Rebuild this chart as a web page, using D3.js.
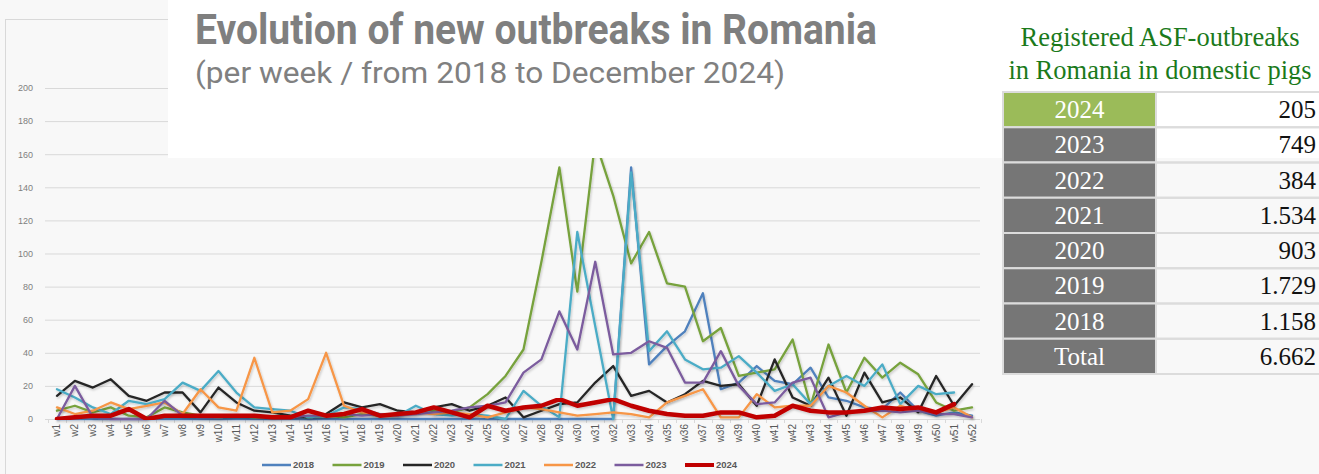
<!DOCTYPE html>
<html>
<head>
<meta charset="utf-8">
<script src="https://cdn.jsdelivr.net/npm/d3@7"></script>
<style>
  html, body { margin: 0; padding: 0; background: #f8f8f8; }
  svg { display: block; }
</style>
</head>
<body>
<svg id="chart" width="1319" height="474"></svg>
<script>
/* ── Data ───────────────────────────────────────────────── */
const weeks = d3.range(1, 53).map(i => 'w' + i);
const yTicks = [0, 20, 40, 60, 80, 100, 120, 140, 160, 180, 200];

const y2018 = [0,0,0,0,0,0,0,0,0,0,0,0,0,0,0,0,0,0,0,0,0,0,0,0,0,0,0,0,0,0,0,0,
  152,33,44,53,76,18,22,32,23,21,31,13,11,7,6,16,5,2,4,2];
const y2019 = [5,8,4,7,2,1,7,4,2,1,2,1,1,2,1,2,1,3,2,3,4,5,4,7,15,26,42,95,152,77,168,135,
  94,113,82,80,47,55,26,28,30,48,8,45,16,37,25,34,27,10,5,7];
const y2020 = [14,23,19,24,14,11,16,16,4,19,10,5,4,2,1,3,10,7,9,5,4,7,9,5,8,13,1,5,9,10,22,32,
  14,17,10,15,23,20,21,8,36,13,8,25,2,28,10,13,4,26,8,21];
const y2021 = [18,13,7,3,11,9,12,22,17,29,16,7,6,5,1,2,7,6,3,2,8,3,2,3,2,0,17,8,1,113,56,0,
  149,41,53,36,30,31,38,28,17,21,9,20,26,20,33,9,20,15,16,null];
const y2022 = [7,3,5,10,6,8,10,3,18,7,5,37,4,5,12,40,8,4,3,3,4,3,4,3,1,4,7,6,4,2,3,4,
  3,1,10,14,18,1,1,15,7,8,8,20,16,8,1,8,5,4,7,1];
const y2023 = [0,20,1,0,0,0,11,2,1,1,2,2,1,1,2,2,3,2,3,2,3,4,5,7,8,10,28,36,65,42,95,39,
  40,47,43,22,22,41,20,9,10,22,25,1,4,5,5,4,5,3,3,1];
const y2024 = [0,1,2,2,6,0,2,2,2,2,2,2,1,1,5,2,3,6,2,3,4,7,4,1,8,5,7,8,12,8,10,12,
  8,5,3,2,2,4,4,1,2,8,5,4,4,5,7,6,7,4,9,null];

const seriesNames  = ['2018', '2019', '2020', '2021', '2022', '2023', '2024'];
const seriesValues = [y2018, y2019, y2020, y2021, y2022, y2023, y2024];
const seriesColors = ['#4f81bd', '#77a23c', '#262626', '#4bacc6', '#f79646', '#7b5c9e', '#c00000'];

const tableYears  = ['2024', '2023', '2022', '2021', '2020', '2019', '2018', 'Total'];
const tableTotals = ['205', '749', '384', '1.534', '903', '1.729', '1.158', '6.662'];

/* ── Setup ──────────────────────────────────────────────── */
const svg = d3.select('#chart');
const plot = { left: 45, right: 980, top: 88, bottom: 419 };

const x = d3.scaleBand().domain(weeks).range([48, 981]);
const y = d3.scaleLinear().domain([0, 200]).range([plot.bottom, plot.top]);

const defs = svg.append('defs');
defs.append('filter').attr('id', 'shadow')
  .attr('x', '-5%').attr('y', '-5%').attr('width', '110%').attr('height', '110%')
  .append('feDropShadow')
  .attr('dx', 1).attr('dy', 1.5).attr('stdDeviation', 1.2)
  .attr('flood-color', '#000').attr('flood-opacity', 0.2);

/* ── Frame ──────────────────────────────────────────────── */
svg.append('rect')
  .attr('x', 5.5).attr('y', 19.5).attr('width', 1400).attr('height', 500)
  .attr('fill', '#f8f8f8').attr('stroke', '#d9d9d9');

/* ── Y axis + gridlines ─────────────────────────────────── */
const yAxis = svg.append('g')
  .attr('transform', `translate(${plot.left},0)`)
  .call(d3.axisLeft(y).tickValues(yTicks).tickSize(-(plot.right - plot.left)).tickPadding(12));
yAxis.select('.domain').remove();
yAxis.selectAll('line').attr('stroke', '#d9d9d9');
yAxis.selectAll('text')
  .attr('fill', '#7f7f7f')
  .style('font', '9px "Liberation Sans", Arial, sans-serif');

/* ── X axis ─────────────────────────────────────────────── */
const xAxis = svg.append('g')
  .attr('transform', `translate(0,${plot.bottom})`)
  .call(d3.axisBottom(x).tickSize(0));
xAxis.select('.domain').attr('stroke', '#d9d9d9').attr('d', `M${plot.left},0.5H${plot.right}`);
xAxis.selectAll('text')
  .attr('transform', 'rotate(-90)')
  .attr('x', -5).attr('y', 0).attr('dy', '0.35em')
  .style('text-anchor', 'end')
  .attr('fill', '#595959')
  .style('font', '10px "Liberation Sans", Arial, sans-serif');

// tick marks sit between the categories
xAxis.selectAll('.sep')
  .data(weeks.concat(['end']))
  .enter().append('line')
  .attr('class', 'sep')
  .attr('x1', (d, i) => Math.round(x.range()[0] + i * x.step()) + 0.5)
  .attr('x2', (d, i) => Math.round(x.range()[0] + i * x.step()) + 0.5)
  .attr('y1', 0).attr('y2', 4)
  .attr('stroke', '#d9d9d9');

/* ── Lines ──────────────────────────────────────────────── */
const line = d3.line()
  .defined(d => d != null)
  .x((d, i) => x(weeks[i]) + x.bandwidth() / 2)
  .y(d => y(d));

svg.append('g').selectAll('path')
  .data(seriesValues)
  .enter().append('path')
  .attr('d', d => line(d))
  .attr('fill', 'none')
  .attr('stroke', (d, i) => seriesColors[i])
  .attr('stroke-width', (d, i) => seriesNames[i] === '2024' ? 4.5 : 2.3)
  .attr('stroke-linejoin', 'round')
  .attr('stroke-linecap', 'round')
  .attr('filter', 'url(#shadow)');

/* ── Legend ─────────────────────────────────────────────── */
const legend = svg.append('g').attr('transform', 'translate(262,465)');
const item = legend.selectAll('g')
  .data(seriesNames)
  .enter().append('g')
  .attr('transform', (d, i) => `translate(${i * 70.5},0)`);
item.append('line')
  .attr('x1', 0).attr('x2', 29)
  .attr('stroke', (d, i) => seriesColors[i])
  .attr('stroke-width', d => d === '2024' ? 4 : 2.5);
item.append('text')
  .attr('x', 31).attr('dy', '0.35em')
  .attr('fill', '#595959')
  .style('font', 'bold 9.5px "Liberation Sans", Arial, sans-serif')
  .text(d => d);

/* ── Title box (covers top of the chart) ────────────────── */
svg.append('rect')
  .attr('x', 168).attr('y', 0).attr('width', 1151).attr('height', 158)
  .attr('fill', '#ffffff');

svg.append('text')
  .attr('x', 195).attr('y', 44)
  .attr('fill', '#7f7f7f')
  .attr('textLength', 682).attr('lengthAdjust', 'spacingAndGlyphs')
  .style('font', 'bold 42px Roboto, sans-serif')
  .text('Evolution of new outbreaks in Romania');

svg.append('text')
  .attr('x', 195).attr('y', 83)
  .attr('fill', '#808080')
  .attr('textLength', 590).attr('lengthAdjust', 'spacingAndGlyphs')
  .style('font', '30px Roboto, sans-serif')
  .text('(per week / from 2018 to December 2024)');

/* ── Totals table ───────────────────────────────────────── */
const serif = '"Liberation Serif", "Times New Roman", serif';

svg.append('g').selectAll('text')
  .data(['Registered ASF-outbreaks', 'in Romania in domestic pigs'])
  .enter().append('text')
  .attr('x', 1160).attr('y', (d, i) => 46 + i * 33)
  .attr('text-anchor', 'middle')
  .attr('fill', '#1b7a1b')
  .style('font', `26.5px ${serif}`)
  .text(d => d);

const rowY = d3.scaleBand().domain(tableYears).range([92, 374]);
const col = { left: 1003, mid: 1156, right: 1322 };

const rows = svg.append('g').selectAll('g')
  .data(tableYears)
  .enter().append('g')
  .attr('transform', d => `translate(0,${rowY(d)})`);

rows.append('rect')
  .attr('x', col.left).attr('y', 0)
  .attr('width', col.right - col.left).attr('height', rowY.bandwidth())
  .attr('fill', 'none').attr('stroke', '#dcdcdc').attr('stroke-width', 2);

rows.append('rect')
  .attr('x', col.left + 1).attr('y', 1)
  .attr('width', col.mid - col.left - 2).attr('height', rowY.bandwidth() - 2)
  .attr('fill', (d, i) => i === 0 ? '#9bbb59' : '#767676');

rows.append('line')
  .attr('x1', col.mid).attr('x2', col.mid)
  .attr('y1', 0).attr('y2', rowY.bandwidth())
  .attr('stroke', '#dcdcdc').attr('stroke-width', 2);

rows.append('text')
  .attr('x', (col.left + col.mid) / 2)
  .attr('y', rowY.bandwidth() / 2).attr('dy', '0.34em')
  .attr('text-anchor', 'middle')
  .attr('fill', '#ffffff')
  .style('font', `25px ${serif}`)
  .text(d => d);

rows.append('text')
  .attr('x', 1316)
  .attr('y', rowY.bandwidth() / 2).attr('dy', '0.34em')
  .attr('text-anchor', 'end')
  .attr('fill', '#111111')
  .style('font', `25px ${serif}`)
  .text((d, i) => tableTotals[i]);
</script>
</body>
</html>
